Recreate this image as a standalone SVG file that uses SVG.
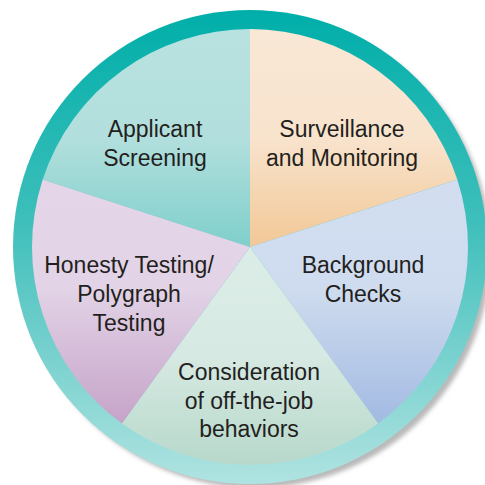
<svg xmlns="http://www.w3.org/2000/svg" width="485" height="485" viewBox="0 0 485 485">
<style>
text{font-family:"Liberation Sans",Arial,sans-serif;font-size:23px;fill:#231f20;text-anchor:middle}
</style>
<defs>
<linearGradient id="ring" x1="0" y1="10" x2="0" y2="484" gradientUnits="userSpaceOnUse">
<stop offset="0" stop-color="#00aea9"/>
<stop offset="0.45" stop-color="#3fbfbb"/>
<stop offset="1" stop-color="#b0e3e1"/>
</linearGradient>
<linearGradient id="gA" x1="0" y1="29" x2="0" y2="247" gradientUnits="userSpaceOnUse">
<stop offset="0" stop-color="#b8e2e0"/>
<stop offset="0.5" stop-color="#b2dfdd"/>
<stop offset="1" stop-color="#7fcfcb"/>
</linearGradient>
<linearGradient id="gS" x1="0" y1="29" x2="0" y2="247" gradientUnits="userSpaceOnUse">
<stop offset="0" stop-color="#f9e8d6"/>
<stop offset="0.5" stop-color="#f8e3cd"/>
<stop offset="1" stop-color="#f2c896"/>
</linearGradient>
<linearGradient id="gB" x1="0" y1="180" x2="0" y2="423" gradientUnits="userSpaceOnUse">
<stop offset="0" stop-color="#d2def0"/>
<stop offset="0.45" stop-color="#cfdcef"/>
<stop offset="1" stop-color="#a2bae2"/>
</linearGradient>
<linearGradient id="gC" x1="0" y1="247" x2="0" y2="466" gradientUnits="userSpaceOnUse">
<stop offset="0" stop-color="#dcede7"/>
<stop offset="0.5" stop-color="#d6e9e2"/>
<stop offset="1" stop-color="#b7d8cb"/>
</linearGradient>
<linearGradient id="gH" x1="0" y1="180" x2="0" y2="423" gradientUnits="userSpaceOnUse">
<stop offset="0" stop-color="#e4d6e8"/>
<stop offset="0.45" stop-color="#e2d3e6"/>
<stop offset="1" stop-color="#c6a3c9"/>
</linearGradient>
<filter id="blur" x="-10%" y="-10%" width="120%" height="120%"><feGaussianBlur stdDeviation="2"/></filter>
</defs>
<circle cx="255" cy="252" r="236" fill="#b9b9b9" filter="url(#blur)"/>
<circle cx="250" cy="247" r="237" fill="url(#ring)"/>
<g id="applicant-screening">
<path d="M250,247 L250,29 A218,218 0 0 0 42.7,179.6 Z" fill="url(#gA)"/>
<text x="155" y="137">Applicant</text>
<text x="155" y="166">Screening</text>
</g>
<g id="surveillance">
<path d="M250,247 L250,29 A218,218 0 0 1 457.3,179.6 Z" fill="url(#gS)"/>
<text x="342" y="137">Surveillance</text>
<text x="342" y="166">and Monitoring</text>
</g>
<g id="background-checks">
<path d="M250,247 L457.3,179.6 A218,218 0 0 1 378.1,423.4 Z" fill="url(#gB)"/>
<text x="363" y="273">Background</text>
<text x="363" y="302">Checks</text>
</g>
<g id="consideration">
<path d="M250,247 L378.1,423.4 A218,218 0 0 1 121.9,423.4 Z" fill="url(#gC)"/>
<text x="249" y="380">Consideration</text>
<text x="249" y="409">of off-the-job</text>
<text x="249" y="437">behaviors</text>
</g>
<g id="honesty-testing">
<path d="M250,247 L121.9,423.4 A218,218 0 0 1 42.7,179.6 Z" fill="url(#gH)"/>
<text x="129" y="273">Honesty Testing/</text>
<text x="129" y="302">Polygraph</text>
<text x="129" y="331">Testing</text>
</g>
</svg>
